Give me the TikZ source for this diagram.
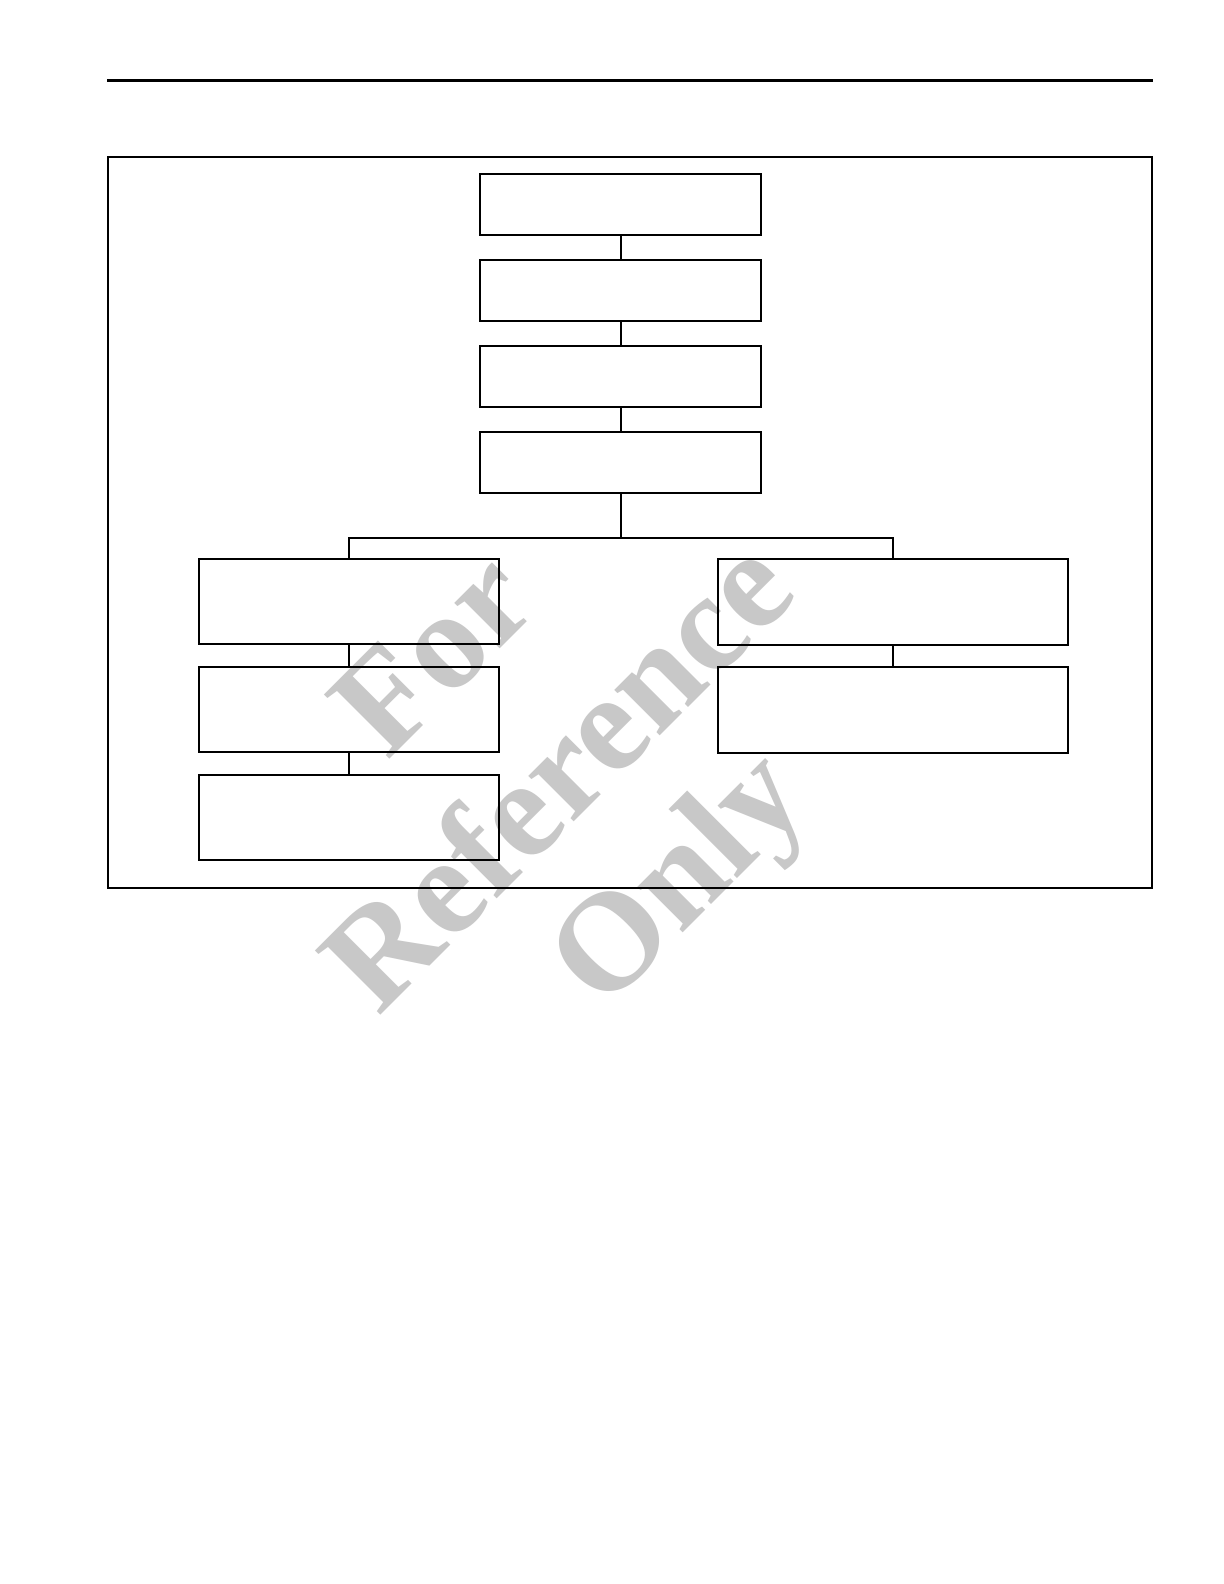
\documentclass[tikz,border=0pt]{standalone}
\usepackage{fontspec}
\setmainfont{Liberation Serif}
\definecolor{wmgray}{RGB}{200,200,200}
\begin{document}
\begin{tikzpicture}[x=0.5pt, y=-0.5pt,
        topbox/.style={draw, line width=1pt, minimum width=140.5pt, minimum height=30.5pt, inner sep=0pt},
        leftbox/.style={draw, line width=1pt, minimum width=150pt, minimum height=42.5pt, inner sep=0pt},
        rightbox/.style={draw, line width=1pt, minimum width=175pt, minimum height=43pt, inner sep=0pt},
        link/.style={line width=1pt},
        watermark/.style={font=\bfseries\fontsize{70}{70}\selectfont, color=wmgray, rotate=45, inner sep=0pt}
    ]
    % Pagina
    \useasboundingbox (0,0) rectangle (1224,1584);
    \fill[white] (0,0) rectangle (1224,1584);

    % Filigrana
    \node[watermark] (wm1) at (433,653) {For};
    \node[watermark] (wm2) at (555,772) {Reference};
    \node[watermark] (wm3) at (684,884) {Only};

    % Riga di testa e cornice
    \draw[line width=1.5pt] (107,81) -- (1153,81);
    \draw[line width=0.75pt] (108,157) rectangle (1152,888);

    % Colonna centrale
    \node[topbox] (t1) at (620.5,204) {};
    \node[topbox] (t2) at (620.5,290) {};
    \node[topbox] (t3) at (620.5,376) {};
    \node[topbox] (t4) at (620.5,462) {};

    % Colonna sinistra
    \node[leftbox] (l1) at (349,601.5) {};
    \node[leftbox] (l2) at (349,709.5) {};
    \node[leftbox] (l3) at (349,817.5) {};

    % Colonna destra
    \node[rightbox] (r1) at (893,601.5) {};
    \node[rightbox] (r2) at (893,710) {};

    % Collegamenti
    \coordinate (bus) at (620.5,538);
    \draw[link] (t1) -- (t2);
    \draw[link] (t2) -- (t3);
    \draw[link] (t3) -- (t4);
    \draw[link] (t4) -- (bus);
    \draw[link] (l1.north) |- (bus) -| (r1.north);
    \draw[link] (l1) -- (l2);
    \draw[link] (l2) -- (l3);
    \draw[link] (r1) -- (r2);
\end{tikzpicture}
\end{document}
